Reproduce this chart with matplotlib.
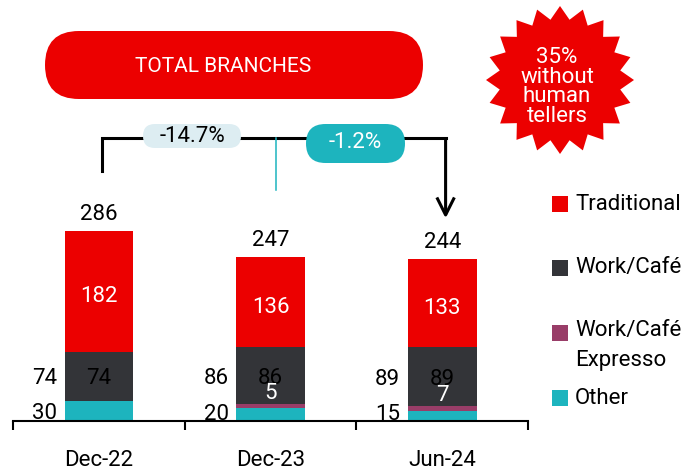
import numpy as np
import matplotlib
matplotlib.use("Agg")
import matplotlib.pyplot as plt
from matplotlib.patches import FancyBboxPatch, Rectangle, Polygon

plt.rcParams['font.family'] = ['Roboto', 'DejaVu Sans']

# data
categories = ['Dec-22', 'Dec-23', 'Jun-24']
other = [30, 20, 15]
expresso = [0, 5, 7]
workcafe = [74, 86, 89]
traditional = [182, 136, 133]
totals = [286, 247, 244]
changes = ['-14.7%', '-1.2%']
series_names = ['Traditional', 'Work/Café', 'Work/Café\nExpresso', 'Other']

RED = '#EC0000'
DARK = '#333438'
PURPLE = '#993D68'
TEAL = '#1DB4BE'
PALE = '#DDEDF2'
FS = 16

fig = plt.figure(figsize=(6.87, 4.70), dpi=100)
ax = fig.add_axes([13 / 687, 49 / 470, 515 / 687, 318.9 / 470])

x = np.arange(len(categories))
w = 0.4
b0 = np.zeros(len(categories))
b1 = b0 + np.array(other)
b2 = b1 + np.array(expresso)
b3 = b2 + np.array(workcafe)

ax.bar(x, other, w, bottom=b0, color=TEAL, linewidth=0)
ax.bar(x, expresso, w, bottom=b1, color=PURPLE, linewidth=0)
ax.bar(x, workcafe, w, bottom=b2, color=DARK, linewidth=0)
ax.bar(x, traditional, w, bottom=b3, color=RED, linewidth=0)

for i in range(len(categories)):
    # inside labels
    ax.text(x[i], b3[i] + traditional[i] / 2 - 4, str(traditional[i]), color='white',
            ha='center', va='center_baseline', fontsize=FS)
    ax.text(x[i], b2[i] + workcafe[i] / 2, str(workcafe[i]), color='black',
            ha='center', va='center_baseline', fontsize=FS)
    if expresso[i] > 0:
        ax.text(x[i], b2[i] + 20, str(expresso[i]), color='white',
                ha='center', va='center_baseline', fontsize=FS)
    # left-side labels
    ax.annotate(str(workcafe[i]), (x[i] - w / 2, b2[i] + workcafe[i] / 2),
                xytext=(-5.5, 0), textcoords='offset points',
                ha='right', va='center_baseline', fontsize=FS)
    ax.annotate(str(other[i]), (x[i] - w / 2, max(other[i] / 2, 13)),
                xytext=(-5.5, 0), textcoords='offset points',
                ha='right', va='center_baseline', fontsize=FS)
    # totals
    ax.annotate(str(totals[i]), (x[i], totals[i]), xytext=(0, 8),
                textcoords='offset points', ha='center', va='baseline', fontsize=FS)

# bracket with arrow
br_y = max(totals) + 140
ax.plot([x[0] + 0.02, x[0] + 0.02, x[2] + 0.02], [totals[0] + 90, br_y, br_y],
        color='black', lw=2.2, solid_joinstyle='miter', clip_on=False)
ax.annotate('', xy=(x[2] + 0.02, totals[2] + 61), xytext=(x[2] + 0.02, br_y),
            arrowprops=dict(arrowstyle='->,head_length=0.7,head_width=0.35',
                            lw=2.2, color='black', mutation_scale=18,
                            shrinkA=0, shrinkB=0, capstyle='butt'))
ax.plot([x[1] + 0.03, x[1] + 0.03], [br_y, totals[1] + 101], color=TEAL, lw=1.1)

ax.set_xlim(-0.5, 2.5)
ax.set_ylim(0, 480)
for s in ['top', 'right', 'left']:
    ax.spines[s].set_visible(False)
ax.spines['bottom'].set_linewidth(1.5)
ax.set_yticks([])
ax.set_xticks(x)
ax.set_xticklabels(categories, fontsize=FS)
ax.tick_params(axis='x', which='major', length=0, pad=21)
ax.set_xticks([-0.5, 0.5, 1.5, 2.5], minor=True)
ax.tick_params(axis='x', which='minor', length=6.5, width=1.5, direction='out')

# overlay in pixel coordinates for decorations
ov = fig.add_axes([0, 0, 1, 1])
ov.set_xlim(0, 687)
ov.set_ylim(470, 0)
ov.axis('off')

ov.add_patch(FancyBboxPatch((45, 31), 378, 68, boxstyle='round,pad=0,rounding_size=34',
                            facecolor=RED, edgecolor='none'))
ov.text(223, 66, 'TOTAL BRANCHES', color='white', ha='center', va='center', fontsize=15)

ov.add_patch(FancyBboxPatch((143, 124), 98, 24, boxstyle='round,pad=0,rounding_size=12',
                            facecolor=PALE, edgecolor='none'))
ov.text(192, 137, changes[0], color='black', ha='center', va='center', fontsize=FS)
ov.add_patch(FancyBboxPatch((306, 124), 99, 39, boxstyle='round,pad=0,rounding_size=19.5',
                            facecolor=TEAL, edgecolor='none'))
ov.text(355, 142, changes[1], color='white', ha='center', va='center', fontsize=FS)

# starburst badge
n = 20
ang = np.pi / 2 + np.arange(2 * n) * np.pi / n
rad = np.where(np.arange(2 * n) % 2 == 0, 74, 61)
ov.add_patch(Polygon(np.column_stack([560 + rad * np.cos(ang), 80 - rad * np.sin(ang)]),
                     closed=True, facecolor=RED, edgecolor='none'))
ov.text(557, 87, '35%\nwithout\nhuman\ntellers', color='white', ha='center',
        va='center', fontsize=16, linespacing=0.9)

# legend
colors = [RED, DARK, PURPLE, TEAL]
ys = [204, 268, 333, 398]
for name, c, yy in zip(series_names, colors, ys):
    ov.add_patch(Rectangle((552, yy - 8), 16, 16, facecolor=c, edgecolor='none'))
    if '\n' in name:
        ov.text(575, yy - 13, name, ha='left', va='top', fontsize=FS, linespacing=1.55)
    else:
        ov.text(575, yy, name, ha='left', va='center', fontsize=FS)

fig.savefig('out.png', dpi=100)
